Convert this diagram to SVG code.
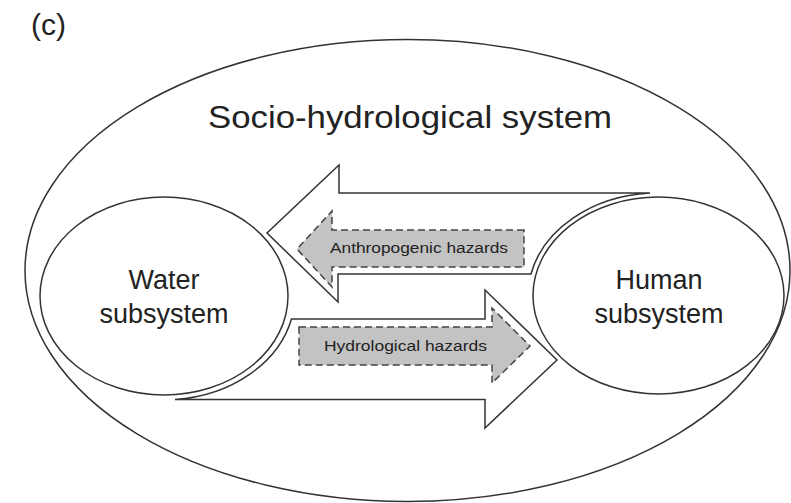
<svg xmlns="http://www.w3.org/2000/svg" width="791" height="503" viewBox="0 0 791 503">
  <style>
    .line { fill: #fff; stroke: #333; stroke-width: 1.5; }
    .ell { fill: none; stroke: #333; stroke-width: 1.5; }
    .haz { fill: #c3c3c3; stroke: #444; stroke-width: 1.5; stroke-dasharray: 7 4; }
    text { font-family: "Liberation Sans", Arial, sans-serif; fill: #222; }
    .big { font-size: 27px; text-anchor: middle; }
    .small { font-size: 14px; }
  </style>
  <rect width="791" height="503" fill="#fff"/>
  <text x="31" y="35" style="font-size:30px">(c)</text>
  <g id="socio-hydrological-system">
    <ellipse class="ell" cx="407.5" cy="270.5" rx="382.5" ry="231"/>
    <text x="208" y="128" style="font-size:32px" textLength="404" lengthAdjust="spacingAndGlyphs">Socio-hydrological system</text>
  </g>
  <g id="connectors">
    <path class="line" d="M 650,193 L 339,193 L 339,165 L 267,233 L 338,302 L 338,274 L 531,274 A 131 103 0 0 1 650,193 Z"/>
    <path class="line" d="M 175,399.5 L 485,399.5 L 485,428 L 557,360 L 485,290 L 485,319 L 291.5,319 A 131 105 0 0 1 175,399.5 Z"/>
  </g>
  <g id="anthropogenic-hazards">
    <path class="haz" d="M 524,230 L 332,230 L 332,211 L 297,249 L 332,287 L 332,267 L 524,267 Z"/>
    <text class="small" x="330" y="253" textLength="178" lengthAdjust="spacingAndGlyphs">Anthropogenic hazards</text>
  </g>
  <g id="hydrological-hazards">
    <path class="haz" d="M 299,327 L 492,327 L 492,308 L 530,346 L 492,383 L 492,365 L 299,365 Z"/>
    <text class="small" x="324" y="351" textLength="163" lengthAdjust="spacingAndGlyphs">Hydrological hazards</text>
  </g>
  <g id="water-subsystem">
    <ellipse class="ell" cx="164" cy="296" rx="124" ry="99"/>
    <text class="big" x="164" y="289">Water</text>
    <text class="big" x="164" y="323">subsystem</text>
  </g>
  <g id="human-subsystem">
    <ellipse class="ell" cx="658.5" cy="295.5" rx="125.5" ry="98.5"/>
    <text class="big" x="659" y="289">Human</text>
    <text class="big" x="659" y="323">subsystem</text>
  </g>
</svg>
